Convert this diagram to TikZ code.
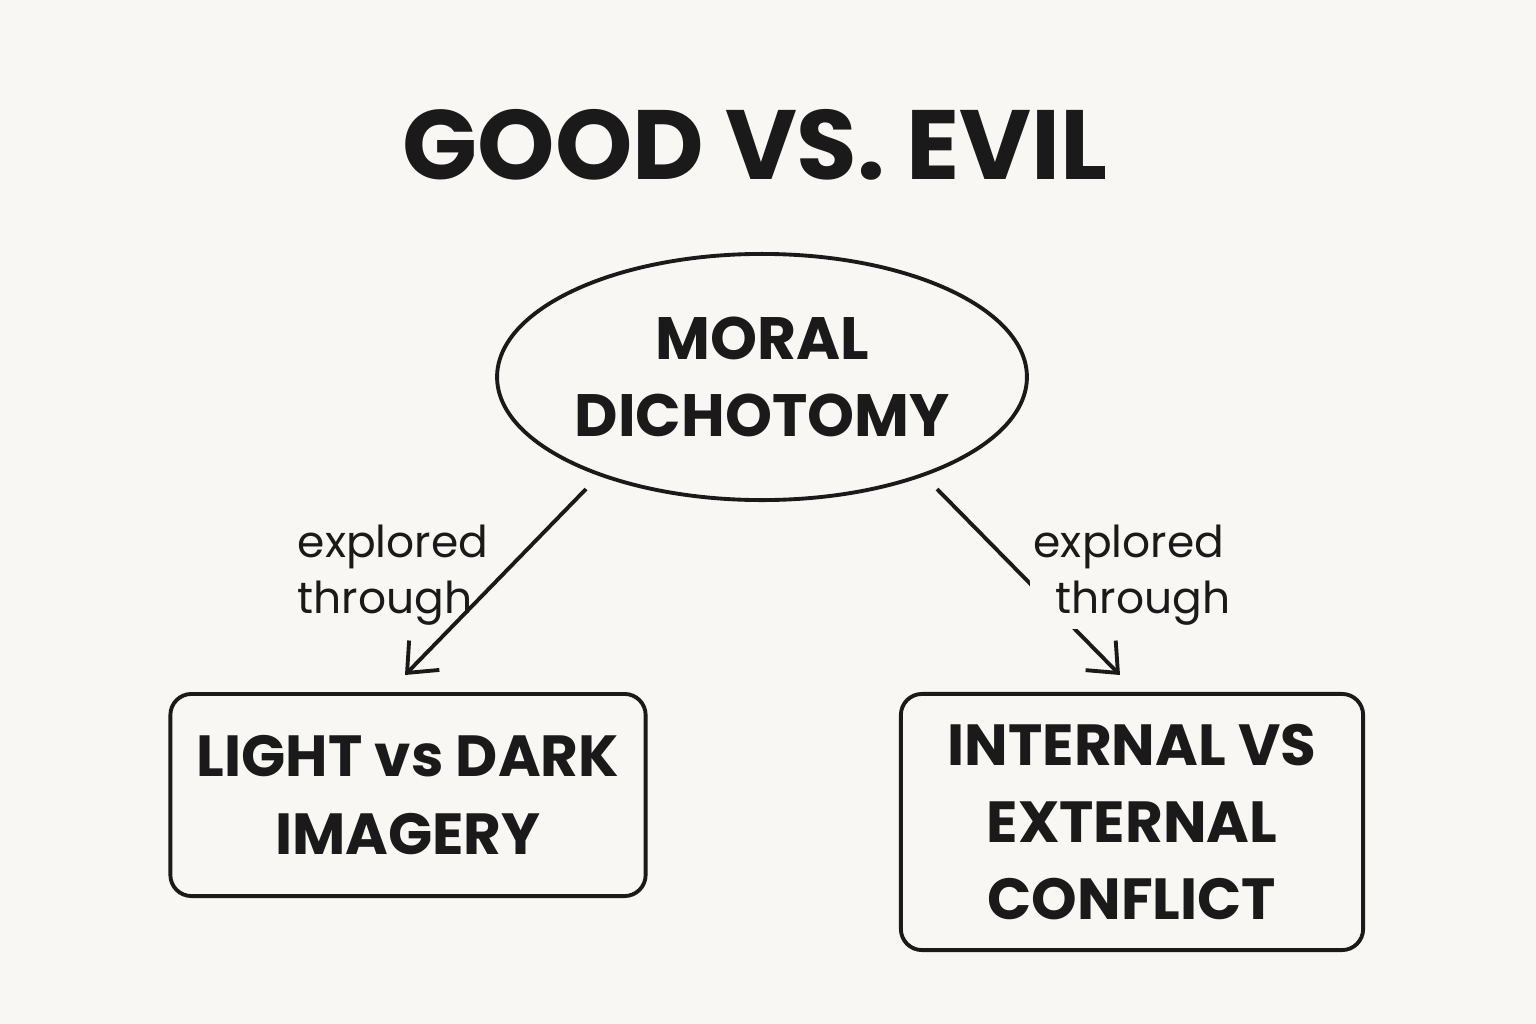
\documentclass[tikz,border=0pt]{standalone}
\usepackage{fontspec}
\setmainfont{Poppins}
\usetikzlibrary{arrows.meta,shapes.geometric}
\definecolor{paper}{HTML}{F8F7F3}
\definecolor{ink}{HTML}{1A1A1A}

\begin{document}
\begin{tikzpicture}[x=0.01cm, y=-0.01cm, ink, line width=1.1pt]

\tikzset{topic/.style = {draw, rounded corners=6pt, align=center,
           font=\fontsize{16.5}{22}\selectfont\bfseries},
         link/.style = {-{Straight Barb[length=7pt,width=12pt,line width=1.1pt]}},
         note/.style = {align=left, font=\fontsize{12.5}{16}\selectfont}}

\fill[paper] (0,0) rectangle (1536,1024);

\node (t) at (755,145) {\fontsize{28}{32}\selectfont\bfseries GOOD VS. EVIL};

\node (m) [draw, ellipse, minimum width=490\pgflinewidth/1.1, inner sep=0pt,
  minimum width=4.9cm, minimum height=2.46cm, align=center,
  font=\fontsize{17}{22}\selectfont\bfseries] at (762,377) {MORAL\\DICHOTOMY};

\node (l) [topic, minimum width=4.75cm, minimum height=2.02cm] at (408,795)
  {LIGHT vs DARK\\IMAGERY};
\node (r) [topic, minimum width=4.62cm, minimum height=2.56cm] at (1132,822)
  {INTERNAL VS\\EXTERNAL\\CONFLICT};

\coordinate (la) at (586,489);
\coordinate (lb) at (405,675);
\coordinate (ra) at (937,489);
\coordinate (rb) at (1120,675);

\draw[link] (la) -- (lb);
\draw[link] (ra) -- (rb);

\node (nl) [note] at (393,575) {explored\\through};
\node (nr) [note, fill=paper, inner sep=1pt] at (1132,575) {explored\\\hspace*{0.5em}through};

\end{tikzpicture}
\end{document}
